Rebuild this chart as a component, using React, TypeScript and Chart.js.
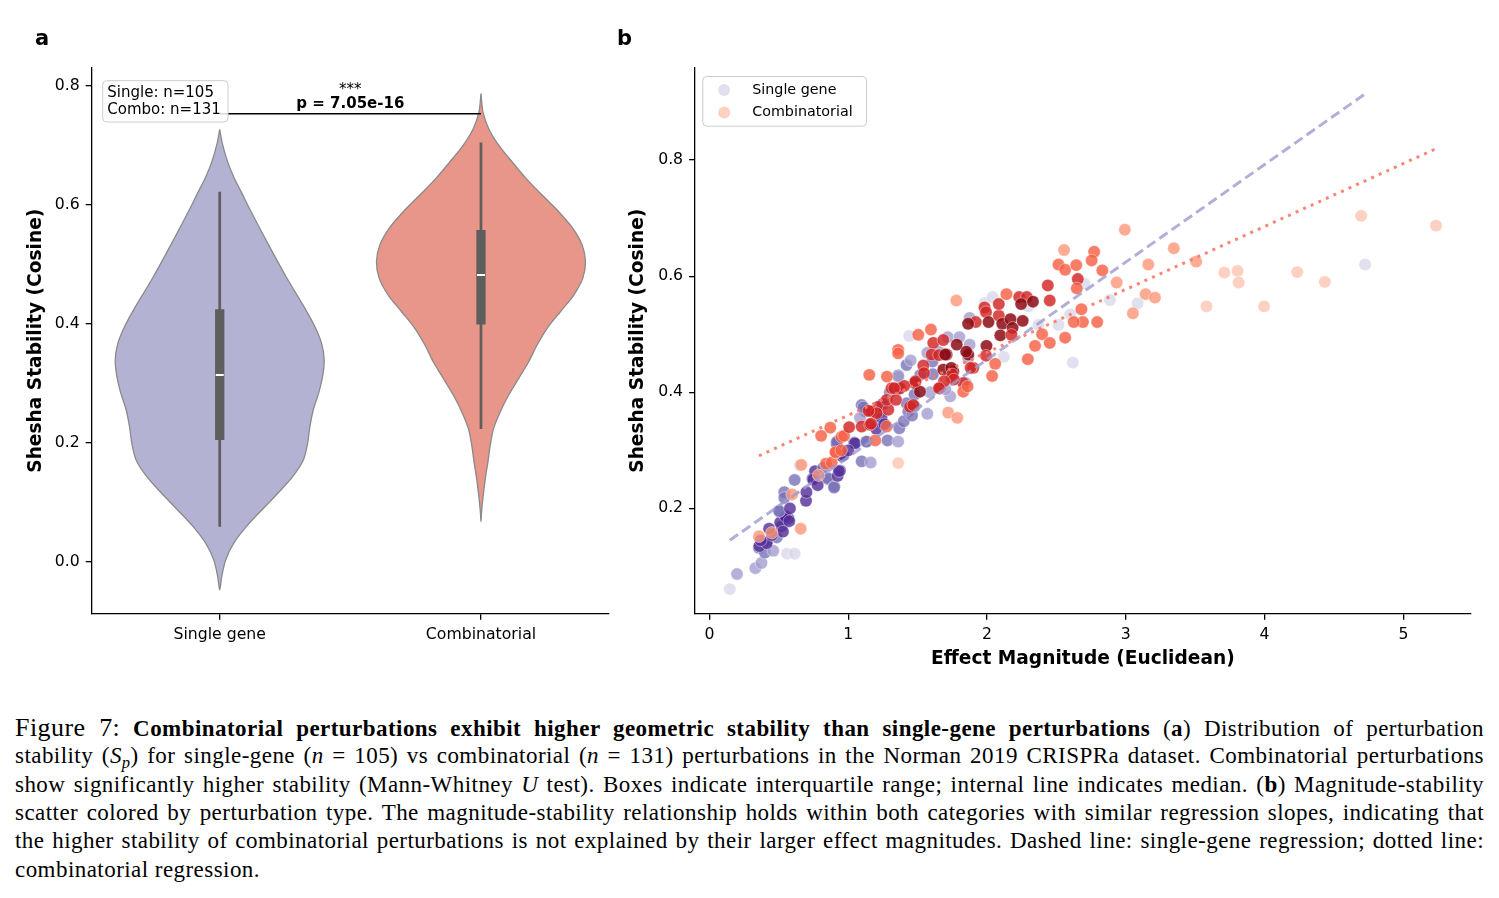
import { useEffect, useRef } from 'react';
import { Chart, registerables } from 'chart.js';

Chart.register(...registerables);

const SANS = '"DejaVu Sans", Verdana, sans-serif';
const SERIF = '"Liberation Serif", "DejaVu Serif", serif';

// ---------- panel a: stability distributions ----------
const categories = ['Single gene', 'Combinatorial'];
const stabilityTicks = [0, 0.2, 0.4, 0.6, 0.8];

// density outlines: stability level and half-width relative to the widest point
const singleLevels = [0.7272, 0.7037, 0.6757, 0.6477, 0.6197, 0.5917, 0.5357, 0.4796, 0.4236, 0.3956, 0.3676, 0.3396, 0.3116, 0.2836, 0.2556, 0.2276, 0.1996, 0.1716, 0.1436, 0.1156, 0.0875, 0.0595, 0.0315, 0.0035, -0.0245, -0.0469];
const singleWidths = [0, 0.025, 0.07, 0.133, 0.213, 0.292, 0.46, 0.635, 0.825, 0.911, 0.975, 1.0, 0.984, 0.946, 0.895, 0.863, 0.841, 0.8, 0.698, 0.556, 0.403, 0.254, 0.133, 0.057, 0.019, 0];
const comboLevels = [0.7877, 0.7569, 0.7289, 0.7009, 0.6729, 0.6449, 0.6169, 0.5889, 0.5609, 0.5329, 0.5048, 0.4768, 0.4488, 0.4208, 0.3928, 0.3648, 0.3368, 0.3088, 0.2808, 0.2528, 0.2248, 0.1968, 0.1688, 0.1408, 0.1128, 0.0847, 0.0679];
const comboWidths = [0, 0.019, 0.073, 0.169, 0.297, 0.431, 0.585, 0.744, 0.879, 0.968, 1.0, 0.974, 0.888, 0.76, 0.633, 0.537, 0.457, 0.361, 0.265, 0.185, 0.121, 0.089, 0.067, 0.042, 0.022, 0.006, 0];

// inner box plot per category
const whiskerLow = [0.0595, 0.2237];
const quartile1 = [0.2052, 0.3995];
const medians = [0.3144, 0.4824];
const quartile3 = [0.4248, 0.558];
const whiskerHigh = [0.6224, 0.7054];

const bracketLevel = 0.7535;
const starsText = '***';
const pValueText = 'p = 7.05e-16';

// ---------- panel b: magnitude vs stability ----------
const magnitudeTicks = [0, 1, 2, 3, 4, 5];
const scatterStabilityTicks = [0.2, 0.4, 0.6, 0.8];

const singleMagnitude = [0.147, 0.199, 0.331, 0.375, 0.559, 0.614, 0.357, 0.412, 0.4, 0.46, 0.36, 0.413, 0.485, 0.37, 0.52, 0.569, 0.51, 0.55, 0.575, 0.501, 0.53, 0.45, 0.54, 0.54, 0.504, 0.614, 0.651, 0.696, 0.699, 0.743, 0.761, 0.749, 0.857, 0.853, 0.9, 0.898, 0.924, 0.941, 0.934, 0.956, 0.965, 0.917, 0.919, 1.044, 1.049, 1.097, 1.162, 1.129, 1.133, 1.202, 1.121, 1.097, 1.085, 1.11, 1.239, 1.26, 1.283, 1.36, 1.368, 1.4, 1.421, 1.433, 1.46, 1.478, 1.478, 1.368, 1.36, 1.421, 1.45, 1.361, 1.44, 1.57, 1.607, 1.61, 1.57, 1.59, 1.717, 1.801, 1.875, 1.846, 1.735, 1.7, 1.875, 1.985, 2.04, 2.121, 2.599, 2.515, 2.702, 2.618, 2.886, 3.085, 4.724, 1.3, 1.25, 0.43, 0.78, 0.82, 0.58, 1.0, 1.52, 1.65, 2.37, 2.298, 1.865];
const singleStability = [0.061, 0.087, 0.097, 0.106, 0.122, 0.122, 0.132, 0.142, 0.124, 0.127, 0.135, 0.14, 0.15, 0.145, 0.169, 0.183, 0.176, 0.186, 0.178, 0.196, 0.16, 0.154, 0.228, 0.218, 0.195, 0.249, 0.274, 0.213, 0.228, 0.251, 0.264, 0.25, 0.25, 0.252, 0.238, 0.236, 0.256, 0.265, 0.264, 0.29, 0.292, 0.312, 0.315, 0.313, 0.312, 0.281, 0.279, 0.315, 0.315, 0.337, 0.367, 0.378, 0.356, 0.374, 0.356, 0.345, 0.317, 0.315, 0.338, 0.35, 0.381, 0.367, 0.36, 0.376, 0.396, 0.406, 0.429, 0.447, 0.455, 0.427, 0.497, 0.468, 0.453, 0.431, 0.363, 0.4, 0.495, 0.495, 0.482, 0.416, 0.393, 0.405, 0.528, 0.554, 0.564, 0.461, 0.534, 0.516, 0.587, 0.451, 0.559, 0.553, 0.62, 0.4, 0.38, 0.165, 0.24, 0.27, 0.2, 0.3, 0.43, 0.47, 0.516, 0.548, 0.459];
const singleShade = [0, 1, 1, 1, 0, 0, 2, 3, 2, 1, 3, 3, 2, 3, 3, 3, 3, 4, 3, 2, 3, 3, 2, 2, 2, 2, 0, 3, 3, 3, 3, 3, 2, 2, 2, 2, 3, 3, 3, 3, 3, 3, 2, 3, 3, 2, 1, 2, 2, 3, 3, 2, 1, 2, 3, 3, 2, 1, 2, 2, 2, 2, 2, 2, 2, 3, 2, 2, 1, 1, 0, 1, 2, 2, 1, 1, 1, 1, 1, 1, 1, 1, 1, 0, 0, 0, 0, 0, 0, 0, 0, 0, 0, 2, 3, 3, 3, 2, 3, 3, 2, 1, 0, 0, 1];

const comboMagnitude = [0.357, 0.449, 0.658, 0.596, 0.662, 0.787, 0.84, 0.881, 0.912, 0.908, 0.805, 0.871, 0.952, 0.97, 1.007, 1.097, 1.157, 1.165, 1.195, 1.277, 1.217, 1.169, 1.205, 1.147, 1.289, 1.277, 1.344, 1.313, 1.373, 1.445, 1.469, 1.481, 1.517, 1.404, 1.331, 1.485, 1.152, 0.95, 1.279, 1.36, 1.36, 1.505, 1.596, 1.541, 1.546, 1.613, 1.601, 1.685, 1.709, 1.782, 1.865, 1.85, 1.901, 1.685, 1.757, 1.746, 1.661, 1.829, 1.829, 1.86, 1.72, 1.786, 1.654, 1.699, 1.743, 1.75, 1.761, 1.691, 1.882, 1.654, 1.779, 1.919, 1.864, 1.996, 1.993, 2.059, 2.037, 1.982, 1.993, 2.011, 2.085, 2.11, 2.169, 2.184, 2.096, 2.176, 2.085, 2.14, 2.232, 2.287, 2.246, 2.331, 2.257, 2.438, 2.452, 2.397, 2.563, 2.452, 2.346, 2.294, 2.555, 2.772, 2.515, 2.563, 2.643, 2.754, 2.831, 2.654, 2.647, 2.68, 2.691, 2.625, 2.794, 2.993, 2.934, 3.346, 3.507, 3.162, 3.143, 3.21, 3.051, 3.71, 3.805, 3.813, 4.235, 4.434, 3.581, 3.996, 4.695, 5.235, 1.36];
const comboStability = [0.152, 0.158, 0.165, 0.224, 0.275, 0.257, 0.277, 0.279, 0.296, 0.297, 0.325, 0.339, 0.323, 0.325, 0.34, 0.341, 0.344, 0.346, 0.317, 0.341, 0.375, 0.367, 0.364, 0.368, 0.37, 0.387, 0.387, 0.407, 0.407, 0.375, 0.378, 0.416, 0.401, 0.411, 0.407, 0.419, 0.43, 0.3, 0.427, 0.473, 0.467, 0.499, 0.508, 0.446, 0.433, 0.485, 0.465, 0.49, 0.465, 0.482, 0.465, 0.47, 0.442, 0.439, 0.436, 0.424, 0.407, 0.416, 0.401, 0.41, 0.365, 0.356, 0.464, 0.465, 0.442, 0.431, 0.422, 0.419, 0.442, 0.407, 0.558, 0.521, 0.518, 0.48, 0.463, 0.449, 0.428, 0.546, 0.538, 0.521, 0.532, 0.518, 0.526, 0.511, 0.498, 0.499, 0.552, 0.569, 0.564, 0.564, 0.552, 0.556, 0.523, 0.584, 0.558, 0.5, 0.494, 0.485, 0.48, 0.457, 0.645, 0.642, 0.62, 0.611, 0.619, 0.627, 0.61, 0.595, 0.579, 0.543, 0.521, 0.521, 0.521, 0.68, 0.589, 0.648, 0.625, 0.62, 0.569, 0.563, 0.536, 0.606, 0.609, 0.589, 0.607, 0.59, 0.548, 0.548, 0.704, 0.687, 0.278];
const comboShade = [1, 1, 1, 1, 1, 1, 2, 2, 2, 2, 2, 2, 2, 2, 3, 3, 3, 3, 2, 2, 3, 3, 3, 3, 3, 3, 3, 3, 3, 3, 3, 4, 4, 3, 3, 3, 2, 2, 2, 2, 2, 2, 2, 3, 3, 3, 3, 3, 4, 4, 4, 4, 3, 4, 4, 3, 3, 3, 2, 2, 1, 1, 3, 4, 4, 3, 3, 3, 3, 3, 1, 3, 4, 4, 3, 2, 2, 3, 3, 4, 3, 4, 4, 4, 4, 3, 3, 2, 3, 3, 4, 4, 4, 3, 3, 2, 2, 2, 2, 2, 1, 2, 2, 2, 2, 2, 2, 3, 2, 2, 2, 2, 2, 1, 1, 1, 1, 1, 1, 1, 1, 0, 0, 0, 0, 0, 0, 0, 0, 0, 0];

// least-squares fits (stability = intercept + slope * magnitude)
const fitSlope = [0.168, 0.1084];
const fitIntercept = [0.1203, 0.252];

const purpleShades = ['rgba(216,215,235,0.78)', 'rgba(162,158,206,0.8)', 'rgba(120,114,184,0.8)', 'rgba(86,50,154,0.82)', 'rgba(64,14,130,0.85)'];
const redShades = ['rgba(253,196,176,0.78)', 'rgba(252,150,120,0.8)', 'rgba(247,96,70,0.82)', 'rgba(210,36,36,0.82)', 'rgba(140,10,20,0.85)'];

const violinColors = ['#b4b2d3', '#e8968a'];
const VIOLIN_HALF = 0.4;

type Pt = { x: number; y: number };

function violinOutline(center: number, levels: number[], widths: number[]): Pt[] {
  const left = levels.map((y, i) => ({ x: center - widths[i] * VIOLIN_HALF, y }));
  const right = levels.map((y, i) => ({ x: center + widths[i] * VIOLIN_HALF, y })).reverse();
  return [...left, ...right.slice(1)];
}

function segment(data: Pt[], color: string, width: number) {
  return {
    data,
    showLine: true,
    pointRadius: 0,
    pointHoverRadius: 0,
    borderColor: color,
    backgroundColor: color,
    borderWidth: width,
    borderCapStyle: 'butt' as const,
    fill: false,
    tension: 0,
  };
}

function fixedAxis(size: number, horizontal: boolean) {
  return (scale: any) => {
    if (horizontal) scale.height = size;
    else scale.width = size;
  };
}

function spine(extra: any) {
  return {
    border: { display: true, color: '#000', width: 1.3 },
    grid: { display: true, drawOnChartArea: false, drawTicks: true, tickLength: 6, color: '#000', lineWidth: 1.3 },
    ...extra,
    ticks: { color: '#000', font: { size: 15.7, family: SANS }, padding: 6, ...(extra.ticks || {}) },
  };
}

function roundBox(ctx: CanvasRenderingContext2D, x: number, y: number, w: number, h: number, r: number) {
  ctx.beginPath();
  ctx.moveTo(x + r, y);
  ctx.arcTo(x + w, y, x + w, y + h, r);
  ctx.arcTo(x + w, y + h, x, y + h, r);
  ctx.arcTo(x, y + h, x, y, r);
  ctx.arcTo(x, y, x + w, y, r);
  ctx.closePath();
  ctx.fillStyle = 'rgba(255,255,255,0.85)';
  ctx.fill();
  ctx.strokeStyle = '#cccccc';
  ctx.lineWidth = 1;
  ctx.stroke();
}

const panelAPlugin = {
  id: 'panelAText',
  afterDatasetsDraw(chart: any) {
    const { ctx, chartArea, scales } = chart;
    const xs = scales.x;
    const ys = scales.y;
    ctx.save();
    ctx.fillStyle = '#000';
    ctx.textBaseline = 'alphabetic';

    const mid = (xs.getPixelForValue(0) + xs.getPixelForValue(1)) / 2;
    const barY = ys.getPixelForValue(bracketLevel);
    ctx.textAlign = 'center';
    ctx.font = `15px ${SANS}`;
    ctx.fillText(starsText, mid, barY - 20);
    ctx.font = `bold 15px ${SANS}`;
    ctx.fillText(pValueText, mid, barY - 5.6);

    const bx = chartArea.left + 11;
    const by = chartArea.top + 13;
    roundBox(ctx, bx, by, 125.3, 41.3, 4);
    ctx.fillStyle = '#000';
    ctx.textAlign = 'left';
    ctx.font = `15px ${SANS}`;
    ctx.fillText(`Single: n=${singleMagnitude.length}`, bx + 4.6, by + 16.6);
    ctx.fillText(`Combo: n=${comboMagnitude.length}`, bx + 4.6, by + 33.3);

    ctx.font = `bold 21px ${SANS}`;
    ctx.fillText('a', 35, 45);
    ctx.restore();
  },
};

const panelBPlugin = {
  id: 'panelBText',
  afterDatasetsDraw(chart: any) {
    const { ctx, chartArea } = chart;
    ctx.save();
    const bx = chartArea.left + 7.7;
    const by = chartArea.top + 8.8;
    roundBox(ctx, bx, by, 163.7, 49.7, 4);
    const rows = [
      { label: categories[0], color: purpleShades[0] },
      { label: categories[1], color: redShades[0] },
    ];
    rows.forEach((row, i) => {
      const cy = by + 13.4 + i * 22.5;
      ctx.beginPath();
      ctx.arc(bx + 21.4, cy, 6, 0, Math.PI * 2);
      ctx.fillStyle = row.color;
      ctx.fill();
      ctx.fillStyle = '#000';
      ctx.font = `14.3px ${SANS}`;
      ctx.textAlign = 'left';
      ctx.textBaseline = 'middle';
      ctx.fillText(row.label, bx + 49.4, cy);
    });
    ctx.textBaseline = 'alphabetic';
    ctx.font = `bold 21px ${SANS}`;
    ctx.fillStyle = '#000';
    ctx.fillText('b', 17, 45);
    ctx.restore();
  },
};

function fitPoints(k: number): Pt[] {
  const xs = k === 0 ? singleMagnitude : comboMagnitude;
  const lo = Math.min(...xs);
  const hi = Math.max(...xs);
  return [lo, hi].map((x) => ({ x, y: fitIntercept[k] + fitSlope[k] * x }));
}

const LEFT_W = 620;
const RIGHT_W = 899;
const CANVAS_H = 690;
const DOT_R = 6.2;

export default function App() {
  const leftRef = useRef<HTMLCanvasElement>(null);
  const rightRef = useRef<HTMLCanvasElement>(null);

  useEffect(() => {
    Chart.defaults.font.family = SANS;
    Chart.defaults.color = '#000';

    const cats = [0, 1];
    const violinA = new Chart(leftRef.current!, {
      type: 'scatter',
      data: {
        datasets: [
          ...cats.map((i) => segment([{ x: i - 0.0153, y: medians[i] }, { x: i + 0.0153, y: medians[i] }], '#ffffff', 2)),
          ...cats.map((i) => segment([{ x: i, y: quartile1[i] }, { x: i, y: quartile3[i] }], '#5e5e5e', 9.3)),
          ...cats.map((i) => segment([{ x: i, y: whiskerLow[i] }, { x: i, y: whiskerHigh[i] }], '#5e5e5e', 2.7)),
          segment([{ x: 0, y: bracketLevel }, { x: 1, y: bracketLevel }], '#000000', 1.4),
          ...cats.map((i) => ({
            data: violinOutline(i, i === 0 ? singleLevels : comboLevels, i === 0 ? singleWidths : comboWidths),
            showLine: true,
            pointRadius: 0,
            pointHoverRadius: 0,
            borderColor: '#8a8a8a',
            borderWidth: 1.3,
            backgroundColor: violinColors[i],
            fill: 'shape',
            tension: 0.3,
          })),
        ],
      },
      options: {
        responsive: false,
        animation: false,
        events: [],
        layout: { padding: { left: 0, top: 67.7, right: LEFT_W - 609, bottom: 0 } },
        plugins: { legend: { display: false }, tooltip: { enabled: false } },
        scales: {
          x: spine({
            type: 'linear',
            min: -0.49,
            max: 1.49,
            afterFit: fixedAxis(CANVAS_H - 613.8, true),
            afterBuildTicks: (s: any) => { s.ticks = cats.map((v) => ({ value: v })); },
            ticks: { callback: (v: any) => categories[Math.round(Number(v))] },
          }),
          y: spine({
            type: 'linear',
            min: -0.087,
            max: 0.831,
            afterFit: fixedAxis(91.7, false),
            afterBuildTicks: (s: any) => { s.ticks = stabilityTicks.map((v) => ({ value: v })); },
            ticks: { callback: (v: any) => Number(v).toFixed(1) },
            title: {
              display: true,
              text: 'Shesha Stability (Cosine)',
              color: '#000',
              font: { size: 18.6, weight: 'bold', family: SANS },
              padding: { top: 25.2, bottom: 0 },
            },
          }),
        },
      },
      plugins: [panelAPlugin],
    } as any);

    const scatterB = new Chart(rightRef.current!, {
      type: 'scatter',
      data: {
        datasets: [
          {
            ...segment(fitPoints(1), 'rgba(250,120,104,0.9)', 3),
            borderDash: [3, 5.3],
          },
          {
            ...segment(fitPoints(0), 'rgba(158,154,205,0.8)', 3),
            borderDash: [10, 5],
          },
          {
            data: comboMagnitude.map((x, i) => ({ x, y: comboStability[i] })),
            pointRadius: DOT_R,
            pointHoverRadius: DOT_R,
            pointBackgroundColor: comboShade.map((s) => redShades[s]),
            pointBorderColor: 'rgba(255,255,255,0.7)',
            pointBorderWidth: 0.6,
          },
          {
            data: singleMagnitude.map((x, i) => ({ x, y: singleStability[i] })),
            pointRadius: DOT_R,
            pointHoverRadius: DOT_R,
            pointBackgroundColor: singleShade.map((s) => purpleShades[s]),
            pointBorderColor: 'rgba(255,255,255,0.7)',
            pointBorderWidth: 0.6,
          },
        ],
      },
      options: {
        responsive: false,
        animation: false,
        events: [],
        layout: { padding: { left: 0, top: 67.7, right: 1499 - 1470.6, bottom: 0 } },
        plugins: { legend: { display: false }, tooltip: { enabled: false } },
        scales: {
          x: spine({
            type: 'linear',
            min: -0.103,
            max: 5.484,
            afterFit: fixedAxis(CANVAS_H - 613.8, true),
            afterBuildTicks: (s: any) => { s.ticks = magnitudeTicks.map((v) => ({ value: v })); },
            ticks: { callback: (v: any) => String(v) },
            title: {
              display: true,
              text: 'Effect Magnitude (Euclidean)',
              color: '#000',
              font: { size: 18.6, weight: 'bold', family: SANS },
              padding: { top: 0, bottom: 19.8 },
            },
          }),
          y: spine({
            type: 'linear',
            min: 0.0185,
            max: 0.959,
            afterFit: fixedAxis(695.1 - 600, false),
            afterBuildTicks: (s: any) => { s.ticks = scatterStabilityTicks.map((v) => ({ value: v })); },
            ticks: { callback: (v: any) => Number(v).toFixed(1) },
            title: {
              display: true,
              text: 'Shesha Stability (Cosine)',
              color: '#000',
              font: { size: 18.6, weight: 'bold', family: SANS },
              padding: { top: 26.8, bottom: 0 },
            },
          }),
        },
      },
      plugins: [panelBPlugin],
    } as any);

    return () => {
      violinA.destroy();
      scatterB.destroy();
    };
  }, []);

  const line: React.CSSProperties = { textAlign: 'justify', textAlignLast: 'justify', height: 28.4 };
  const sub: React.CSSProperties = { fontSize: '0.72em', verticalAlign: '-0.28em', lineHeight: 0, fontStyle: 'italic' };

  return (
    <div style={{ position: 'absolute', left: 0, top: 0, width: 1499, height: 898, background: '#fff' }}>
      <canvas ref={leftRef} width={LEFT_W} height={CANVAS_H} style={{ position: 'absolute', left: 0, top: 0, width: LEFT_W, height: CANVAS_H }} />
      <canvas ref={rightRef} width={RIGHT_W} height={CANVAS_H} style={{ position: 'absolute', left: 600, top: 0, width: RIGHT_W, height: CANVAS_H }} />
      <div
        style={{
          position: 'absolute',
          left: 15,
          top: 713.8,
          width: 1469,
          fontFamily: SERIF,
          fontSize: 23,
          letterSpacing: '0.45px',
          lineHeight: '28.4px',
          color: '#000',
        }}
      >
        <div style={line}>
          <span style={{ fontSize: 26 }}>Figure 7:</span> <b>Combinatorial perturbations exhibit higher geometric stability than single-gene perturbations</b> (<b>a</b>) Distribution of perturbation
        </div>
        <div style={line}>
          stability (<i>S</i><span style={sub}>p</span>) for single-gene (<i>n</i> = 105) vs combinatorial (<i>n</i> = 131) perturbations in the Norman 2019 CRISPRa dataset. Combinatorial perturbations
        </div>
        <div style={line}>
          show significantly higher stability (Mann-Whitney <i>U</i> test). Boxes indicate interquartile range; internal line indicates median. (<b>b</b>) Magnitude-stability
        </div>
        <div style={line}>
          scatter colored by perturbation type. The magnitude-stability relationship holds within both categories with similar regression slopes, indicating that
        </div>
        <div style={line}>
          the higher stability of combinatorial perturbations is not explained by their larger effect magnitudes. Dashed line: single-gene regression; dotted line:
        </div>
        <div style={{ ...line, textAlignLast: 'left' }}>combinatorial regression.</div>
      </div>
    </div>
  );
}
